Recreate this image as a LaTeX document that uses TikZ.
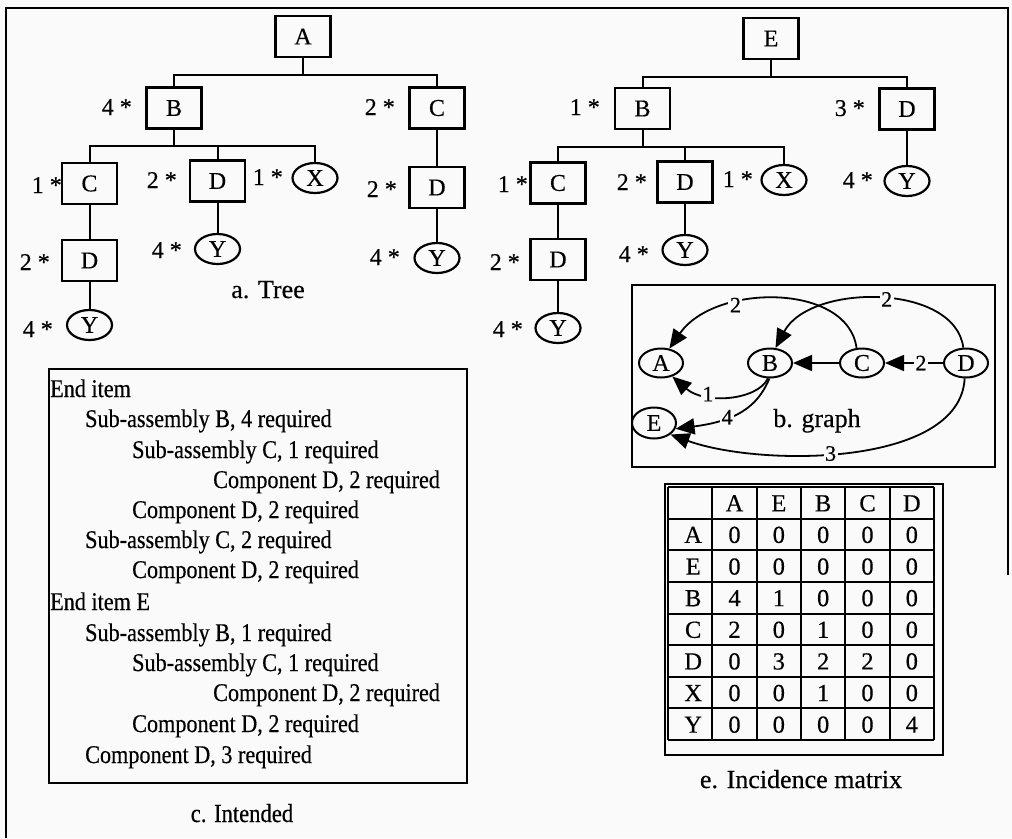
\documentclass[tikz,border=0pt]{standalone}
\usepackage{fontspec}
\setmainfont{Liberation Serif}[FakeBold=0.4]
\newfontfamily\narrowserif{Liberation Serif}[FakeStretch=0.87,FakeBold=0.4]
\usetikzlibrary{arrows.meta,shapes.geometric}

\definecolor{paper}{RGB}{250,250,250}
\newcommand\treefont{\fontsize{24}{28}\selectfont}
\newcommand\capfont{\fontsize{26}{30}\selectfont}
\newcommand\listfont{\narrowserif\fontsize{25.5}{30}\selectfont}
\newcommand\cellfont{\fontsize{24.5}{28}\selectfont}

\tikzset{
  x=1pt, y=-1pt,
  frame/.style={line width=2.2pt},
  box/.style={draw, line width=2.2pt, minimum width=55, minimum height=41, inner sep=0, font=\treefont},
  leaf/.style={draw, ellipse, line width=2.2pt, minimum width=45, minimum height=30, inner sep=0, font=\treefont},
  qty/.style={anchor=base east, inner sep=0, font=\treefont},
  link/.style={line width=2pt},
  caption/.style={anchor=base, inner sep=0, font=\capfont},
  gnode/.style={draw, ellipse, line width=2pt, minimum width=44, minimum height=29, inner sep=0, font=\treefont},
  garrow/.style={line width=1.8pt, -{Triangle[length=19pt,width=16pt]}},
  elabel/.style={fill=paper, inner sep=1.5pt, font=\fontsize{22}{24}\selectfont},
  listline/.style={anchor=base west, inner sep=0, font=\listfont},
  gridline/.style={line width=2pt},
  cell/.style={inner sep=0, text height=17, text depth=0, font=\cellfont},
}

\begin{document}
\begin{tikzpicture}
\fill[paper] (0,0) rectangle (1012,838);
\useasboundingbox (0,0) rectangle (1012,838);

% outer frame
\draw[frame] (6,838) -- (6,8) -- (1008,8) -- (1008,575);

% ---------- tree of end item A ----------
\node[box]  (tA)    at (303,36.5) {A};
\node[box]  (tB)    at (174,108)  {B};
\node[box]  (tC)    at (437,108)  {C};
\node[box]  (tBC)   at (89.5,183.5) {C};
\node[box]  (tBD)   at (217.5,181) {D};
\node[leaf] (tBX)   at (315,178)  {X};
\node[box]  (tCD)   at (437,187.5) {D};
\node[leaf] (tCDY)  at (437,258)  {Y};
\node[box]  (tBCD)  at (89.5,260.5) {D};
\node[leaf] (tBCDY) at (89.5,325) {Y};
\node[leaf] (tBDY)  at (217.5,249) {Y};

\node[qty] (qB)    at (132,115) {4 *};
\node[qty] (qC)    at (395,115) {2 *};
\node[qty] (qBC)   at (62,193)  {1 *};
\node[qty] (qBD)   at (177,188) {2 *};
\node[qty] (qBX)   at (283,185) {1 *};
\node[qty] (qCD)   at (397,197) {2 *};
\node[qty] (qCDY)  at (400,265) {4 *};
\node[qty] (qBCD)  at (50,270)  {2 *};
\node[qty] (qBCDY) at (53,337)  {4 *};
\node[qty] (qBDY)  at (182,258) {4 *};

\coordinate (barA) at (303,75);
\coordinate (barB) at (174,146);
\draw[link] (tA.south) -- (barA) -| (tB.north);
\draw[link] (barA) -| (tC.north);
\draw[link] (tB.south) -- (barB) -| (tBC.north);
\draw[link] (barB) -| (tBD.north);
\draw[link] (barB) -| (tBX.north);
\draw[link] (tC.south) -- (tCD.north);
\draw[link] (tCD.south) -- (tCDY.north);
\draw[link] (tBC.south) -- (tBCD.north);
\draw[link] (tBCD.south) -- (tBCDY.north);
\draw[link] (tBD.south) -- (tBDY.north);

\node[caption] (capA) at (268,298) {a. Tree};

% ---------- tree of end item E ----------
\node[box]  (rE)    at (771,38.5) {E};
\node[box]  (rB)    at (642.5,108.5) {B};
\node[box]  (rD)    at (907,109) {D};
\node[box]  (rBC)   at (558,183) {C};
\node[box]  (rBD)   at (685,182) {D};
\node[leaf] (rBX)   at (784,180) {X};
\node[leaf] (rDY)   at (907,181) {Y};
\node[box]  (rBCD)  at (558,259.5) {D};
\node[leaf] (rBDY)  at (685,250) {Y};
\node[leaf] (rBCDY) at (558,328) {Y};

\node[qty] (qrB)    at (600,115) {1 *};
\node[qty] (qrD)    at (865,116) {3 *};
\node[qty] (qrBC)   at (528,192) {1 *};
\node[qty] (qrBD)   at (647,190) {2 *};
\node[qty] (qrBX)   at (753,187) {1 *};
\node[qty] (qrDY)   at (873,188) {4 *};
\node[qty] (qrBCD)  at (520,270) {2 *};
\node[qty] (qrBDY)  at (649,262) {4 *};
\node[qty] (qrBCDY) at (523,337) {4 *};

\coordinate (barE) at (771,77);
\coordinate (barRB) at (642.5,147);
\draw[link] (rE.south) -- (barE) -| (rB.north);
\draw[link] (barE) -| (rD.north);
\draw[link] (rB.south) -- (barRB) -| (rBC.north);
\draw[link] (barRB) -| (rBD.north);
\draw[link] (barRB) -| (rBX.north);
\draw[link] (rD.south) -- (rDY.north);
\draw[link] (rBC.south) -- (rBCD.north);
\draw[link] (rBCD.south) -- (rBCDY.north);
\draw[link] (rBD.south) -- (rBDY.north);

% ---------- b. graph ----------
\draw[frame] (632,285) rectangle (995,467);
\node[gnode] (gA) at (661,363) {A};
\node[gnode] (gB) at (770,363) {B};
\node[gnode] (gC) at (862,363) {C};
\node[gnode] (gD) at (966,363) {D};
\node[gnode, minimum height=31] (gE) at (654,423) {E};

\draw[garrow] (gC.110) .. controls (848,283) and (715,283) .. (gA.60)
  node[elabel, pos=0.67] {2};
\draw[garrow] (gD.100) .. controls (955,283) and (810,283) .. (gB.70)
  node[elabel, pos=0.47] {2};
\draw[garrow] (gC) -- (gB);
\draw[garrow] (gD) -- (gC) node[elabel, pos=0.38] {2};
\draw[garrow] (gB.262) .. controls (758,400) and (705,405) .. (gA.-50)
  node[elabel, pos=0.68] {1};
\draw[garrow] (gB.268) .. controls (760,400) and (745,420) .. (gE.-15)
  node[elabel, pos=0.68] {4};
\draw[garrow] (gD.265) .. controls (960,467) and (760,467) .. (gE.-35)
  node[elabel, pos=0.55] {3};

\node[caption] (capB) at (817,427) {b. graph};

% ---------- c. intended structure ----------
\draw[frame] (49,369) rectangle (467,783);
\node[listline] (l0)  at (50,397)  {End item};
\node[listline] (l1)  at (85,427)  {Sub-assembly B, 4 required};
\node[listline] (l2)  at (132,458) {Sub-assembly C, 1 required};
\node[listline] (l3)  at (213,488) {Component D, 2 required};
\node[listline] (l4)  at (132,518) {Component D, 2 required};
\node[listline] (l5)  at (85,548)  {Sub-assembly C, 2 required};
\node[listline] (l6)  at (132,578) {Component D, 2 required};
\node[listline] (l7)  at (50,610)  {End item E};
\node[listline] (l8)  at (85,641)  {Sub-assembly B, 1 required};
\node[listline] (l9)  at (132,671) {Sub-assembly C, 1 required};
\node[listline] (l10) at (213,701) {Component D, 2 required};
\node[listline] (l11) at (132,732) {Component D, 2 required};
\node[listline] (l12) at (85,763)  {Component D, 3 required};

\node[caption, font=\narrowserif\fontsize{26}{30}\selectfont] (capC) at (242,822) {c. Intended};

% ---------- e. incidence matrix ----------
\draw[frame] (665,484) rectangle (943,755);
\foreach \i in {0,...,6}
  \draw[gridline] ({668+44.333*\i},487) -- ({668+44.333*\i},740);
\foreach \j in {0,...,8}
  \draw[gridline] (668,{487+31.625*\j}) -- (934,{487+31.625*\j});

\foreach \lab [count=\c] in {A,E,B,C,D}
  \node[cell] (h\c) at ({668+44.333*(\c+0.5)},{487+31.625*0.5}) {\lab};
\foreach \lab/\vals [count=\r] in {A/{0,0,0,0,0},E/{0,0,0,0,0},B/{4,1,0,0,0},C/{2,0,1,0,0},D/{0,3,2,2,0},X/{0,0,1,0,0},Y/{0,0,0,0,4}} {
  \node[cell] (rl\r) at ({668+44.333*0.5+3},{487+31.625*(\r+0.5)}) {\lab};
  \foreach \v [count=\c] in \vals
    \node[cell] (m\r-\c) at ({668+44.333*(\c+0.5)},{487+31.625*(\r+0.5)}) {\v};
}

\node[caption] (capE) at (801,788) {e. Incidence matrix};
\end{tikzpicture}
\end{document}
